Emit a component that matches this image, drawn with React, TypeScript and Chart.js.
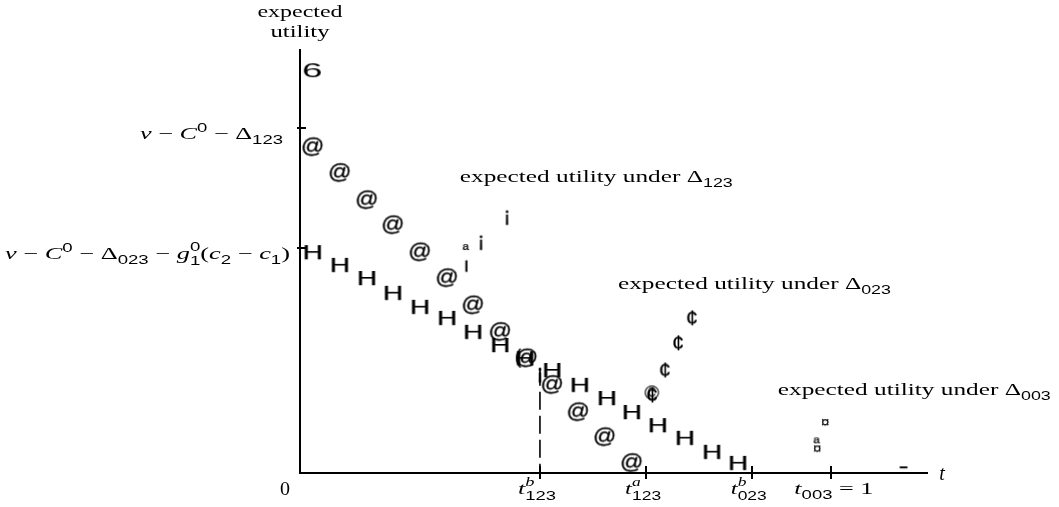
import React, { useEffect, useRef } from "react";
import { Chart, registerables } from "chart.js";

Chart.register(...registerables);

// ---- data (t scaled so that t_003 = 1; expected utility scaled to axis height = 1) ----
const atT = [0.024, 0.075, 0.126, 0.175, 0.226, 0.277, 0.326, 0.377, 0.427, 0.475, 0.524, 0.574, 0.625];
const atU = [0.769, 0.708, 0.644, 0.585, 0.521, 0.46, 0.396, 0.333, 0.271, 0.208, 0.144, 0.085, 0.024];

const hT = [0.024, 0.075, 0.126, 0.175, 0.226, 0.277, 0.326, 0.377, 0.424, 0.475, 0.527, 0.578, 0.625, 0.674, 0.725, 0.776, 0.825];
const hU = [0.521, 0.491, 0.46, 0.425, 0.392, 0.366, 0.333, 0.302, 0.271, 0.243, 0.208, 0.177, 0.144, 0.113, 0.083, 0.05, 0.024];

const centT = [0.663, 0.687, 0.712, 0.738];
const centU = [0.184, 0.243, 0.307, 0.366];

const iT = [0.341, 0.39, 0.452];
const iU = [0.542, 0.601, 0.229];

const dotlessT = [0.313];
const dotlessU = [0.488];

const ordT = [0.313, 0.974];
const ordU = [0.533, 0.077];

const currT = [0.989, 0.974];
const currU = [0.12, 0.058];

const copyT = [0.663, 0.412];
const copyU = [0.19, 0.271];
const copyGlyphs = ["©", "("];

const arrowUpT = [0.024];
const arrowUpU = [0.95];
const arrowRightT = [1.136];
const arrowRightU = [0.014];

// ---- axes ----
const xMax = 1.183;
const yMax = 1;
const xTickValues = [0.452, 0.652, 0.851, 1.0];
const xTickLabels = ["$t^b_{123}$", "$t^a_{123}$", "$t^b_{023}$", "$t_{003} = 1$"];
const yTickValues = [0.814, 0.531];
const yTickLabels = ["$v - C^0 - Δ_{123}$", "$v - C^0 - Δ_{023} - g_1^0(c_2 - c_1)$"];
const originLabel = "0";
const xAxisTitle = "$t$";
const yAxisTitle = ["expected", "utility"];
const dashedAt = 0.452;
const dashedTop = 0.248;

const annotationTexts = [
  "expected utility under $Δ_{123}$",
  "expected utility under $Δ_{023}$",
  "expected utility under $Δ_{003}$",
];
const annotationT = [0.301, 0.599, 0.900];
const annotationU = [0.686, 0.434, 0.184];

// ---- text helpers ----
type Piece = { t: string; f: string; dy: number };
type Seg = Piece | { stack: Piece[] };

const FONTS: Record<string, string> = {
  rm: '17px "Liberation Serif"',
  rmb: '18px "Liberation Serif"',
  it: 'italic 17px "Liberation Serif"',
  itb: 'italic 20px "Liberation Serif"',
  sf: '12px "Liberation Sans"',
  its: 'italic 12px "Liberation Serif"',
};

function parse(s: string, letterFont = "it", textFont = "rm"): Seg[] {
  const out: Seg[] = [];
  let math = false;
  let i = 0;
  const readScript = (): Piece => {
    const kind = s[i];
    i++;
    let g = "";
    if (s[i] === "{") {
      const j = s.indexOf("}", i);
      g = s.slice(i + 1, j);
      i = j + 1;
    } else {
      g = s[i];
      i++;
    }
    return { t: g, f: /^\d+$/.test(g) ? "sf" : "its", dy: kind === "^" ? -7 : 5 };
  };
  while (i < s.length) {
    const ch = s[i];
    if (ch === "$") {
      math = !math;
      i++;
      continue;
    }
    if (!math) {
      out.push({ t: ch, f: textFont, dy: 0 });
      i++;
      continue;
    }
    if (ch === " ") {
      i++;
      continue;
    }
    if (ch === "^" || ch === "_") {
      const p = readScript();
      if (s[i] === "^" || s[i] === "_") {
        const q = readScript();
        p.dy = p.dy < 0 ? -8 : 6;
        q.dy = q.dy < 0 ? -8 : 6;
        out.push({ stack: [p, q] });
      } else out.push(p);
      continue;
    }
    if (ch === "-") out.push({ t: " − ", f: "rm", dy: 0 });
    else if (ch === "=") out.push({ t: " = ", f: "rm", dy: 0 });
    else if (/[a-zA-Z]/.test(ch)) out.push({ t: ch, f: letterFont, dy: 0 });
    else out.push({ t: ch, f: "rm", dy: 0 });
    i++;
  }
  return out;
}

function segWidth(ctx: CanvasRenderingContext2D, sg: Seg): number {
  if ("stack" in sg) return Math.max(...sg.stack.map((p) => segWidth(ctx, p)));
  ctx.font = FONTS[sg.f];
  return ctx.measureText(sg.t).width;
}

function drawRich(
  ctx: CanvasRenderingContext2D,
  str: string,
  x: number,
  y: number,
  align: "left" | "right" | "center",
  targetW?: number,
  letterFont = "it",
  textFont = "rm"
) {
  const segs = parse(str, letterFont, textFont);
  const widths = segs.map((s) => segWidth(ctx, s));
  const total = widths.reduce((a, b) => a + b, 0);
  const sx = targetW ? targetW / total : 1;
  const w = total * sx;
  const x0 = align === "left" ? x : align === "right" ? x - w : x - w / 2;
  ctx.save();
  ctx.translate(x0, y);
  ctx.scale(sx, 1);
  ctx.fillStyle = "#000";
  ctx.textAlign = "left";
  ctx.textBaseline = "alphabetic";
  let cx = 0;
  segs.forEach((sg, k) => {
    const pieces = "stack" in sg ? sg.stack : [sg];
    pieces.forEach((p) => {
      ctx.font = FONTS[p.f];
      ctx.fillText(p.t, cx, p.dy);
    });
    cx += widths[k];
  });
  ctx.restore();
}

function makeGlyph(text: string, size: number, sx: number, weight = 0.5): HTMLCanvasElement {
  const c = document.createElement("canvas");
  const g = c.getContext("2d")!;
  const font = `${size}px "Liberation Sans"`;
  g.font = font;
  const m = g.measureText(text);
  const l = m.actualBoundingBoxLeft;
  const r = m.actualBoundingBoxRight;
  const a = m.actualBoundingBoxAscent;
  const d = m.actualBoundingBoxDescent;
  c.width = Math.ceil((l + r) * sx) + 4;
  c.height = Math.ceil(a + d) + 4;
  g.font = font;
  g.fillStyle = "#000";
  g.strokeStyle = "#000";
  g.lineWidth = weight;
  g.textBaseline = "alphabetic";
  g.setTransform(sx, 0, 0, 1, 2 + l * sx, 2 + a);
  g.fillText(text, 0, 0);
  if (weight > 0) g.strokeText(text, 0, 0);
  return c;
}

function pts(xs: number[], ys: number[]) {
  return xs.map((x, i) => ({ x, y: ys[i] }));
}

export default function App() {
  const ref = useRef<HTMLCanvasElement | null>(null);

  useEffect(() => {
    const canvas = ref.current;
    if (!canvas) return;

    const glyphSet = (data: { x: number; y: number }[], style: HTMLCanvasElement | HTMLCanvasElement[]) => ({
      data,
      pointStyle: style as any,
      pointRadius: 6,
      clip: false as any,
    });

    const axesPlugin = {
      id: "latexAxes",
      beforeDatasetsDraw(chart: any) {
        const { ctx } = chart;
        const xs = chart.scales.x;
        const ys = chart.scales.y;
        const x0 = xs.getPixelForValue(0);
        const y0 = ys.getPixelForValue(0);
        ctx.save();
        ctx.strokeStyle = "#000";
        ctx.lineWidth = 2;
        ctx.beginPath();
        ctx.moveTo(x0, ys.getPixelForValue(yMax));
        ctx.lineTo(x0, y0);
        ctx.lineTo(xs.getPixelForValue(xMax), y0);
        ctx.stroke();
        // y ticks
        yTickValues.forEach((v) => {
          const py = Math.round(ys.getPixelForValue(v));
          ctx.beginPath();
          ctx.moveTo(x0 - 3, py);
          ctx.lineTo(x0 + 6, py);
          ctx.stroke();
        });
        // x ticks
        xTickValues.forEach((v) => {
          const px = Math.round(xs.getPixelForValue(v));
          ctx.beginPath();
          ctx.moveTo(px, y0 - 7);
          ctx.lineTo(px, y0 + 6);
          ctx.stroke();
        });
        // dashed guide
        ctx.lineWidth = 1.6;
        ctx.setLineDash([18, 6]);
        ctx.beginPath();
        ctx.moveTo(xs.getPixelForValue(dashedAt), ys.getPixelForValue(dashedTop));
        ctx.lineTo(xs.getPixelForValue(dashedAt), y0);
        ctx.stroke();
        ctx.restore();
      },
      afterDatasetsDraw(chart: any) {
        const { ctx } = chart;
        const xs = chart.scales.x;
        const ys = chart.scales.y;
        const x0 = xs.getPixelForValue(0);
        const y0 = ys.getPixelForValue(0);
        // y axis title
        const titleW = [85, 59];
        yAxisTitle.forEach((t, i) => drawRich(ctx, t, x0, 17 + i * 20, "center", titleW[i]));
        // y tick labels
        const yOff = [-17, -10];
        const yW = [143, 285];
        yTickValues.forEach((v, i) => {
          drawRich(ctx, yTickLabels[i], x0 + yOff[i], ys.getPixelForValue(v) + 11, "right", yW[i]);
        });
        // x tick labels
        const xW = [38, 36, 36, 79];
        xTickValues.forEach((v, i) => {
          drawRich(ctx, xTickLabels[i], xs.getPixelForValue(v) - 3 + (i === 3 ? 6 : 0), y0 + 21, "center", xW[i]);
        });
        drawRich(ctx, originLabel, x0 - 15, y0 + 22, "center", 10, "it", "rmb");
        drawRich(ctx, xAxisTitle, xs.getPixelForValue(xMax) + 14, y0 + 7, "center", undefined, "itb");
        // annotations
        annotationTexts.forEach((t, i) => {
          drawRich(ctx, t, xs.getPixelForValue(annotationT[i]), ys.getPixelForValue(annotationU[i]), "left", 273);
        });
      },
    };

    const chart = new Chart(canvas, {
      type: "scatter",
      data: {
        datasets: [
          glyphSet(pts(atT, atU), makeGlyph("@", 20, 1.15, 0.3)),
          glyphSet(pts(hT, hU), makeGlyph("H", 20, 1.4, 0.25)),
          glyphSet(pts(centT, centU), makeGlyph("¢", 22, 1.0, 0.2)),
          glyphSet(pts(iT, iU), makeGlyph("¡", 21, 1.0, 0.3)),
          glyphSet(pts(dotlessT, dotlessU), makeGlyph("ı", 20, 1.0, 0.3)),
          glyphSet(pts(ordT, ordU), makeGlyph("ª", 15, 1.1, 0.2)),
          glyphSet(pts(currT, currU), makeGlyph("¤", 15, 1.0, 0.2)),
          glyphSet(
            pts(copyT, copyU),
            copyGlyphs.map((g) => makeGlyph(g, 20, 1.0, 0.2))
          ),
          glyphSet(pts(arrowUpT, arrowUpU), makeGlyph("6", 21, 1.75, 0)),
          glyphSet(pts(arrowRightT, arrowRightU), makeGlyph("-", 20, 1.5, 0.3)),
        ],
      },
      options: {
        responsive: false,
        animation: false,
        devicePixelRatio: 1,
        events: [],
        layout: { padding: { left: 300, right: 1059 - 928, top: 49, bottom: 507 - 473 } },
        scales: {
          x: { type: "linear", min: 0, max: xMax, display: false },
          y: { type: "linear", min: 0, max: yMax, display: false },
        },
        plugins: { legend: { display: false }, tooltip: { enabled: false } },
      },
      plugins: [axesPlugin],
    });
    return () => chart.destroy();
  }, []);

  return (
    <div style={{ position: "absolute", left: 0, top: 0, width: 1059, height: 507, background: "#fff" }}>
      <canvas ref={ref} width={1059} height={507} />
    </div>
  );
}
